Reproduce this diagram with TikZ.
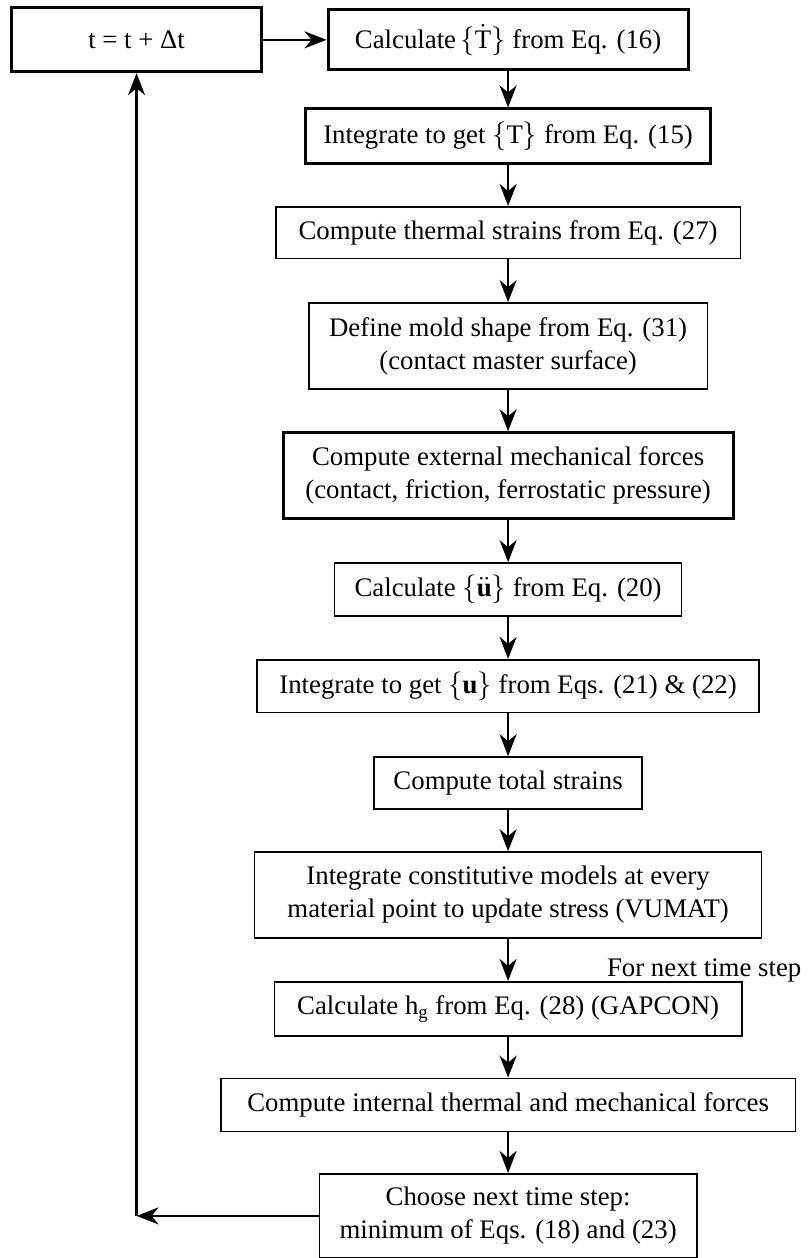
\documentclass[tikz,border=0pt]{standalone}
\usepackage{fontspec}
\setmainfont{Liberation Serif}
\usetikzlibrary{arrows.meta, positioning, calc}

\begin{document}
\begin{tikzpicture}[
		box/.style = {draw, rectangle, line width=0.85pt, inner sep=2pt, align=center},
		% Bloques con borde más grueso
		boldbox/.style = {box, line width=1.5pt},
		flow/.style = {line width=1.3pt},
		>={Stealth[length=11pt, width=8.5pt, inset=3.5pt]},
		font=\fontsize{13.4}{16.5}\selectfont
		]
		
		\useasboundingbox (0,0) rectangle (14.22,-22.11);
		
		% --- PASO DE TIEMPO ---
		\node [boldbox, minimum width=4.38cm, minimum height=1.12cm] (tstep) at (2.40,-0.70) {t = t + Δt};
		
		% --- COLUMNA PRINCIPAL ---
		\node [boldbox, minimum width=6.33cm, minimum height=1.05cm] (calcT) at (8.93,-0.70) {Calculate\,$\big\{\dot{\mathrm{T}}\big\}$ from Eq. (16)};
		\node [boldbox, minimum width=7.13cm, minimum height=0.95cm] (intT) at (8.93,-2.39) {Integrate to get $\big\{\mathrm{T}\big\}$ from Eq. (15)};
		\node [box, minimum width=8.17cm, minimum height=0.91cm] (thermal) at (8.93,-4.09) {Compute thermal strains from Eq. (27)};
		\node [box, minimum width=7.01cm, minimum height=1.51cm] (mold) at (8.93,-6.08) {Define mold shape from Eq. (31) \\ (contact master surface)};
		\node [boldbox, minimum width=7.91cm, minimum height=1.51cm] (extforce) at (8.93,-8.36) {Compute external mechanical forces \\ (contact, friction, ferrostatic pressure)};
		\node [box, minimum width=6.10cm, minimum height=0.93cm] (calcU) at (8.93,-10.36) {Calculate $\big\{\ddot{\mathbf{u}}\big\}$ from Eq. (20)};
		\node [box, minimum width=8.82cm, minimum height=0.93cm] (intU) at (8.93,-12.06) {Integrate to get $\big\{\mathbf{u}\big\}$ from Eqs. (21) \& (22)};
		\node [box, minimum width=4.71cm, minimum height=0.91cm] (total) at (8.93,-13.76) {Compute total strains};
		\node [box, minimum width=8.91cm, minimum height=1.51cm] (vumat) at (8.93,-15.73) {Integrate constitutive models at every \\ material point to update stress (VUMAT)};
		\node [box, minimum width=8.21cm, minimum height=0.95cm] (gapcon) at (8.93,-17.73) {Calculate h$_{\mathrm{g}}$ from Eq. (28) (GAPCON)};
		\node [box, minimum width=10.10cm, minimum height=0.93cm] (intforce) at (8.93,-19.42) {Compute internal thermal and mechanical forces};
		\node [box, minimum width=6.63cm, minimum height=1.48cm] (choose) at (8.93,-21.37) {Choose next time step: \\ minimum of Eqs. (18) and (23)};
		
		% Nota sobre el bloque GAPCON
		\node [anchor=east, inner sep=0pt] (nextnote) at (14.09,-17.05) {For next time step};
		
		% --- CONEXIONES ---
		\draw [flow, ->] (tstep) -- (calcT);
		\draw [flow, ->] (calcT) -- (intT);
		\draw [flow, ->] (intT) -- (thermal);
		\draw [flow, ->] (thermal) -- (mold);
		\draw [flow, ->] (mold) -- (extforce);
		\draw [flow, ->] (extforce) -- (calcU);
		\draw [flow, ->] (calcU) -- (intU);
		\draw [flow, ->] (intU) -- (total);
		\draw [flow, ->] (total) -- (vumat);
		\draw [flow, ->] (vumat) -- (gapcon);
		\draw [flow, ->] (gapcon) -- (intforce);
		\draw [flow, ->] (intforce) -- (choose);
		
		% --- LAZO DE VUELTA AL PASO DE TIEMPO ---
		\coordinate (corner) at (tstep.south |- choose.west);
		\draw [flow, ->] (choose.west) -- (corner);
		\draw [flow, ->] (corner) -- (tstep.south);
		
	\end{tikzpicture}
\end{document}
